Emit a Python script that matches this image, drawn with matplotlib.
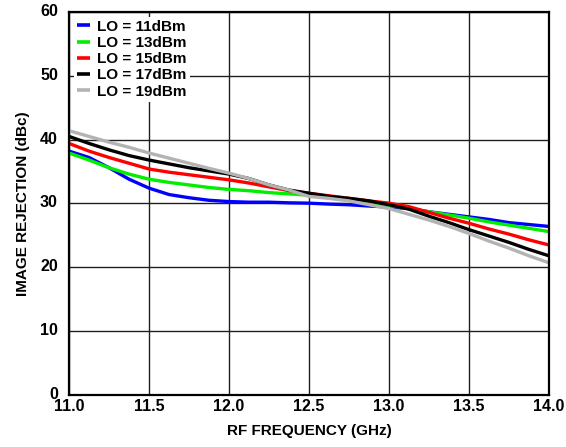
import matplotlib.pyplot as plt
import matplotlib.transforms as mtransforms
import numpy as np

plt.rcParams["font.family"] = ["Liberation Sans", "DejaVu Sans"]
plt.rcParams["font.weight"] = "bold"

# RF frequency (GHz), read at 0.125 GHz steps
freq = np.arange(25) * 0.125 + 11.0

lo_11 = [38.2, 37.2, 35.6, 33.8, 32.4, 31.4, 30.9, 30.5, 30.3, 30.2, 30.2, 30.1, 30.05,
         29.9, 29.8, 29.6, 29.45, 29.2, 28.7, 28.3, 27.9, 27.5, 27.0, 26.7, 26.4]
lo_13 = [37.9, 36.8, 35.6, 34.6, 33.8, 33.3, 32.9, 32.5, 32.2, 32.0, 31.7, 31.5, 31.3,
         30.9, 30.6, 30.2, 29.7, 29.2, 28.7, 28.2, 27.7, 27.1, 26.6, 26.1, 25.6]
lo_15 = [39.4, 38.2, 37.2, 36.3, 35.4, 34.9, 34.5, 34.1, 33.7, 33.2, 32.6, 32.0, 31.6,
         31.2, 30.8, 30.4, 30.05, 29.5, 28.6, 27.7, 26.9, 26.0, 25.2, 24.3, 23.5]
lo_17 = [40.5, 39.4, 38.4, 37.5, 36.8, 36.2, 35.6, 35.1, 34.6, 33.9, 32.9, 32.1, 31.6,
         31.1, 30.8, 30.4, 29.8, 29.1, 28.0, 27.0, 25.9, 24.9, 23.9, 22.8, 21.8]
lo_19 = [41.4, 40.5, 39.6, 38.8, 37.9, 37.1, 36.3, 35.5, 34.75, 33.9, 32.9, 32.1, 31.1,
         30.8, 30.4, 29.8, 29.2, 28.3, 27.4, 26.4, 25.3, 24.1, 23.0, 21.8, 20.7]

SERIES = [
    (lo_11, "LO = 11dBm", "#0000ff"),
    (lo_13, "LO = 13dBm", "#00ee00"),
    (lo_15, "LO = 15dBm", "#ff0000"),
    (lo_17, "LO = 17dBm", "#000000"),
    (lo_19, "LO = 19dBm", "#b3b3b3"),
]

x_ticks = [11.0, 11.5, 12.0, 12.5, 13.0, 13.5, 14.0]
y_ticks = [0, 10, 20, 30, 40, 50, 60]

fig = plt.figure(figsize=(5.66, 4.47), dpi=100)
ax = fig.add_axes([0.122, 0.1163, 0.848, 0.857])

for values, label, color in SERIES:
    ax.plot(freq, values, color=color, linewidth=2.4, label=label,
            solid_capstyle="butt", solid_joinstyle="round")

ax.set_xlim(11.0, 14.0)
ax.set_ylim(0, 60)
ax.set_xticks(x_ticks)
ax.set_xticklabels([f"{t:.1f}" for t in x_ticks])
ax.set_yticks(y_ticks)
ax.tick_params(length=0, labelsize=11.5)
ax.tick_params(axis="y", pad=8)
ax.tick_params(axis="x", pad=3)
ax.grid(True, color="#202020", linewidth=1.0)
ax.set_axisbelow(True)
for spine in ax.spines.values():
    spine.set_linewidth(1.6)

# nudge y tick labels up a little, as in the original
shift = mtransforms.ScaledTranslation(0, 1.5 / 72, fig.dpi_scale_trans)
for lbl in ax.get_yticklabels():
    lbl.set_transform(lbl.get_transform() + shift)

ax.set_xlabel("RF FREQUENCY (GHz)", fontsize=11, fontweight="bold", labelpad=7)
ax.set_ylabel("IMAGE REJECTION (dBc)", fontsize=11, fontweight="bold", labelpad=7)

leg = ax.legend(loc="upper left", fontsize=11, handlelength=0.85, handletextpad=0.5,
                labelspacing=0.15, borderaxespad=0.3, borderpad=0.2,
                fancybox=False, framealpha=1, edgecolor="none")
for t in leg.get_texts():
    t.set_fontweight("bold")
for h in leg.get_lines():
    h.set_linewidth(2.6)

fig.savefig("out.png", dpi=100)
